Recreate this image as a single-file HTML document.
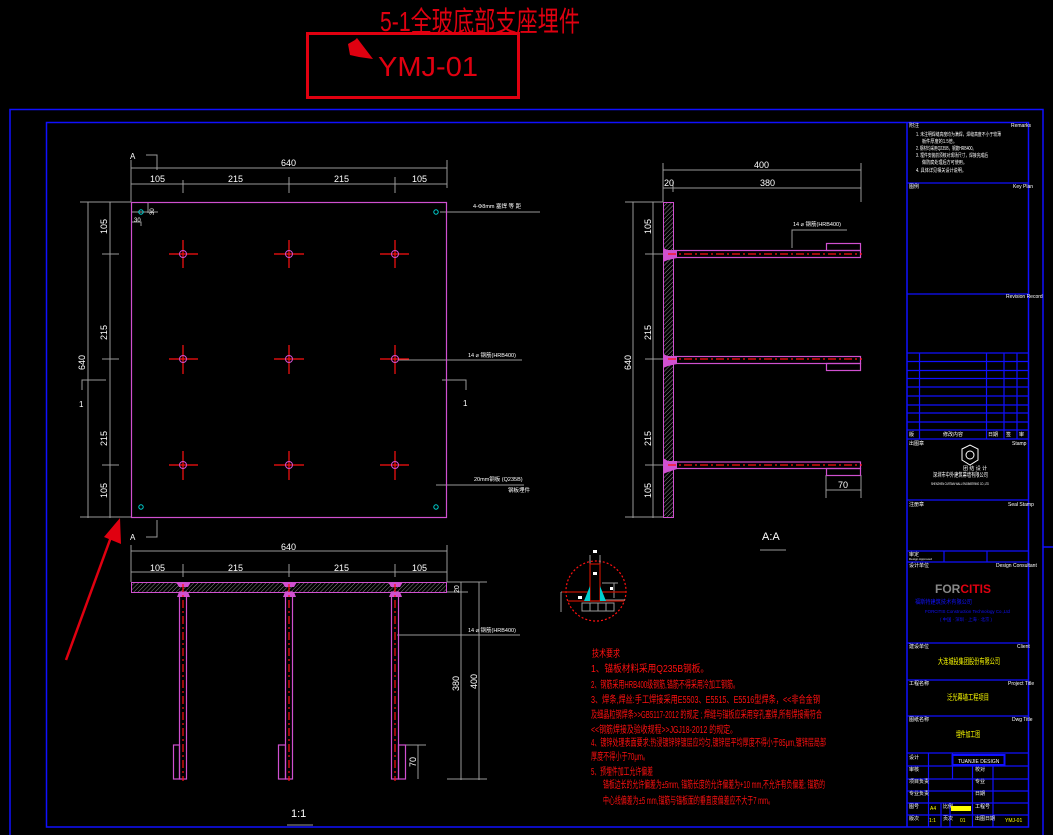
<!DOCTYPE html>
<html><head><meta charset="utf-8"><style>
html,body{margin:0;padding:0;background:#000;width:1053px;height:835px;overflow:hidden}
svg{display:block}
text{font-family:"Liberation Sans","Noto Sans CJK SC",sans-serif}
</style></head><body>
<svg width="1053" height="835" viewBox="0 0 1053 835" xmlns="http://www.w3.org/2000/svg">
<defs>
<pattern id="h" width="3" height="3" patternUnits="userSpaceOnUse" patternTransform="rotate(45)">
<rect width="3" height="3" fill="#000"/><line x1="0" y1="0" x2="0" y2="3" stroke="#888" stroke-width="1"/></pattern>
</defs>
<rect width="1053" height="835" fill="#000"/>
<!-- header -->
<text x="380" y="31" fill="#e00010" font-size="28" textLength="200" lengthAdjust="spacingAndGlyphs" font-family="Liberation Sans, Noto Sans CJK SC, sans-serif" font-weight="normal">5-1全玻底部支座埋件</text>
<rect x="307.5" y="33.5" width="211" height="64" fill="none" stroke="#e00010" stroke-width="3"/>
<polygon points="348,44 355,40 357,38 373,59 359,57 350,55" fill="#e00010"/>
<text x="378" y="76" fill="#e00010" font-size="28" textLength="100" lengthAdjust="spacingAndGlyphs">YMJ-01</text>
<!-- frames -->
<g fill="none" stroke="#1010ff" stroke-width="1.5">
<polyline points="10,835 10,109.5 1043,109.5 1043,835"/>
<rect x="46.5" y="122.5" width="982" height="704.5"/>
<line x1="1043" y1="547" x2="1053" y2="547"/>
<line x1="907" y1="122" x2="907" y2="827"/>
</g>
<g stroke="#1010ff" stroke-width="1.2" fill="none">
<line x1="907" y1="183" x2="1029" y2="183"/><line x1="907" y1="294" x2="1029" y2="294"/>
<line x1="907" y1="353" x2="1029" y2="353"/><line x1="907" y1="361.5" x2="1029" y2="361.5"/>
<line x1="907" y1="370.5" x2="1029" y2="370.5"/><line x1="907" y1="378.5" x2="1029" y2="378.5"/>
<line x1="907" y1="387" x2="1029" y2="387"/><line x1="907" y1="396" x2="1029" y2="396"/>
<line x1="907" y1="405" x2="1029" y2="405"/><line x1="907" y1="413" x2="1029" y2="413"/>
<line x1="907" y1="422" x2="1029" y2="422"/><line x1="907" y1="430" x2="1029" y2="430"/>
<line x1="907" y1="439" x2="1029" y2="439"/>
<line x1="919.5" y1="353" x2="919.5" y2="439"/><line x1="986.5" y1="353" x2="986.5" y2="439"/>
<line x1="1004" y1="353" x2="1004" y2="439"/><line x1="1017" y1="353" x2="1017" y2="439"/>
<line x1="907" y1="500" x2="1029" y2="500"/><line x1="907" y1="551" x2="1029" y2="551"/>
<line x1="907" y1="562" x2="1029" y2="562"/>
<line x1="944" y1="551" x2="944" y2="562"/><line x1="987" y1="551" x2="987" y2="562"/>
<line x1="907" y1="643" x2="1029" y2="643"/><line x1="907" y1="680" x2="1029" y2="680"/>
<line x1="907" y1="716" x2="1029" y2="716"/><line x1="907" y1="753" x2="1029" y2="753"/>
<line x1="907" y1="766" x2="1029" y2="766"/><line x1="907" y1="779" x2="1029" y2="779"/>
<line x1="907" y1="791" x2="1029" y2="791"/><line x1="907" y1="803" x2="1029" y2="803"/>
<line x1="907" y1="815" x2="1029" y2="815"/>
<line x1="928.5" y1="753" x2="928.5" y2="827"/><line x1="952.5" y1="779" x2="952.5" y2="753"/>
<line x1="972.5" y1="766" x2="972.5" y2="827"/><line x1="993" y1="766" x2="993" y2="827"/>
<line x1="950" y1="803" x2="950" y2="827"/><line x1="941" y1="803" x2="941" y2="827"/>
<rect x="952.5" y="755" width="52" height="10" stroke-width="2"/>
</g>
<g fill="#fff" font-size="5">
<text x="909" y="127">附注</text><text x="1011" y="127">Remarks</text>
<text x="916" y="136" textLength="85" lengthAdjust="spacingAndGlyphs">1. 未注明焊缝高度均为满焊，焊缝高度不小于较薄</text>
<text x="922" y="143" textLength="35" lengthAdjust="spacingAndGlyphs">板件厚度的1.5倍。</text>
<text x="916" y="150" textLength="60" lengthAdjust="spacingAndGlyphs">2. 钢材均采用Q235B，钢筋HRB400。</text>
<text x="916" y="157" textLength="72" lengthAdjust="spacingAndGlyphs">3. 埋件安装前须核对现场尺寸，焊接完成后</text>
<text x="922" y="164" textLength="45" lengthAdjust="spacingAndGlyphs">做防腐处理后方可使用。</text>
<text x="916" y="172" textLength="50" lengthAdjust="spacingAndGlyphs">4. 具体详见相关设计说明。</text>
<text x="909" y="188">图例</text><text x="1013" y="188">Key Plan</text>
<text x="1006" y="298">Revision Record</text>
<text x="909" y="436">版</text><text x="943" y="436">修改内容</text><text x="988" y="436">日期</text><text x="1006" y="436">签</text><text x="1019" y="436">审</text>
<text x="909" y="445">出图章</text><text x="1012" y="445">Stamp</text>
<text x="933" y="477" font-size="6" textLength="55" lengthAdjust="spacingAndGlyphs">深圳市中外建筑幕墙有限公司</text>
<text x="931" y="485" font-size="3.5" textLength="58" lengthAdjust="spacingAndGlyphs">SHENZHEN CURTAIN WALL ENGINEERING CO.,LTD</text>
<text x="909" y="506">注册章</text><text x="1008" y="506">Seal Stamp</text>
<text x="909" y="556">审定</text><text x="909" y="560" font-size="3">Design Approved</text>
<text x="909" y="567">设计单位</text><text x="996" y="567">Design Consultant</text>
<text x="909" y="648">建设单位</text><text x="1017" y="648">Client</text>
<text x="909" y="685">工程名称</text><text x="1008" y="685">Project Title</text>
<text x="909" y="721">图纸名称</text><text x="1012" y="721">Dwg Title</text>
<text x="909" y="759">设计</text><text x="958" y="763" font-size="5">TUANJIE DESIGN</text>
<text x="909" y="771">审核</text><text x="975" y="771">校对</text>
<text x="909" y="783">项目负责</text><text x="975" y="783">专业</text>
<text x="909" y="795">专业负责</text><text x="975" y="795">日期</text>
<text x="909" y="808">图号</text><text x="943" y="808">比例</text><text x="975" y="808">工程号</text>
<text x="909" y="820">版次</text><text x="943" y="820">页次</text><text x="975" y="820">出图日期</text>
</g>
<g fill="none" stroke="#fff" stroke-width="1"><polygon points="962,449 970,445 978,449 978,460 970,465 962,460"/><circle cx="970" cy="455" r="4"/></g>
<text x="963" y="470" fill="#fff" font-size="5">团 结 设 计</text>
<text x="935" y="593" font-size="12" font-weight="bold" fill="#888">FOR<tspan fill="#e00010">CITIS</tspan></text>
<text x="915" y="604" fill="#1010ff" font-size="6" textLength="57" lengthAdjust="spacingAndGlyphs">福斯特建筑技术有限公司</text>
<text x="925" y="613" fill="#1010ff" font-size="4.5" textLength="85" lengthAdjust="spacingAndGlyphs">FORCITIS Construction Technology Co.,Ltd</text>
<text x="940" y="621" fill="#1010ff" font-size="4.5" textLength="52" lengthAdjust="spacingAndGlyphs">( 中国 · 深圳 · 上海 · 北京 )</text>
<text x="938" y="664" fill="#ff0" font-size="8" textLength="62" lengthAdjust="spacingAndGlyphs">大连城投集团股份有限公司</text>
<text x="947" y="700" fill="#ff0" font-size="8" textLength="42" lengthAdjust="spacingAndGlyphs">泛光幕墙工程项目</text>
<text x="956" y="737" fill="#ff0" font-size="8" textLength="24" lengthAdjust="spacingAndGlyphs">埋件加工图</text>
<rect x="951" y="806" width="20" height="5" fill="#ff0"/>
<text x="930" y="810" fill="#ff0" font-size="5">A4</text><text x="1005" y="822" fill="#ff0" font-size="5">YMJ-01</text>
<text x="929" y="822" fill="#ff0" font-size="5">1:1</text><text x="960" y="822" fill="#ff0" font-size="5">01</text>

<!-- PLAN VIEW -->
<g stroke="#999" stroke-width="1" fill="none">
<line x1="131" y1="168" x2="447" y2="168"/><line x1="131" y1="184" x2="447" y2="184"/>
<line x1="131" y1="160" x2="131" y2="202"/><line x1="447" y1="160" x2="447" y2="188"/>
<line x1="183" y1="180" x2="183" y2="193"/><line x1="289" y1="177" x2="289" y2="193"/><line x1="395" y1="177" x2="395" y2="193"/>
<line x1="88" y1="202" x2="88" y2="518"/><line x1="110" y1="202" x2="110" y2="518"/>
<line x1="80" y1="202" x2="131" y2="202"/><line x1="80" y1="517" x2="131" y2="517"/>
<line x1="102" y1="254" x2="119" y2="254"/><line x1="102" y1="359" x2="119" y2="359"/><line x1="102" y1="465" x2="119" y2="465"/>
<polyline points="146,155 157,155 157,170"/><polyline points="146,537 157,537 157,520"/>
<polyline points="82,390 82,380 106,380"/><polyline points="442,380 466,380 466,390"/>
<line x1="440" y1="212" x2="540" y2="212"/><line x1="398" y1="360" x2="522" y2="360"/><line x1="436" y1="485" x2="524" y2="485"/>
<polyline points="132,212 158,212"/><polyline points="132,222 141,222 141,226"/><line x1="148" y1="202" x2="148" y2="213"/>
</g>
<rect x="131.5" y="202.5" width="315" height="315" fill="none" stroke="#d050d0" stroke-width="1.2"/>
<g fill="#fff" font-size="9">
<text x="281" y="166">640</text>
<text x="150" y="182">105</text><text x="228" y="182">215</text><text x="334" y="182">215</text><text x="412" y="182">105</text>
<text x="130" y="159" font-size="8">A</text><text x="130" y="540" font-size="8">A</text>
<text x="79" y="407" font-size="8">1</text><text x="463" y="406" font-size="8">1</text>
<text transform="translate(107,234) rotate(-90)">105</text><text transform="translate(107,340) rotate(-90)">215</text>
<text transform="translate(107,446) rotate(-90)">215</text><text transform="translate(107,498) rotate(-90)">105</text>
<text transform="translate(85,370) rotate(-90)">640</text>
<text transform="translate(154,215) rotate(-90)" font-size="6">30</text><text x="134" y="222" font-size="6">30</text>
</g>
<g fill="#fff" font-size="5.5">
<text x="473" y="208">4-Φ8mm  塞焊  等  距</text>
<text x="468" y="357">14 ⌀ 钢筋(HRB400)</text>
<text x="474" y="481">20mm钢板 (Q235B)</text>
<text x="508" y="492">钢板埋件</text>
</g>
<g stroke="#00d0d0" fill="none" stroke-width="1">
<circle cx="141" cy="212" r="2.2"/><circle cx="436" cy="212" r="2.2"/><circle cx="141" cy="507" r="2.2"/><circle cx="436" cy="507" r="2.2"/>
</g>
<g stroke="#ff1010" stroke-width="1.2">
<line x1="169" y1="254" x2="198" y2="254"/><line x1="183" y1="240" x2="183" y2="268"/>
<line x1="274" y1="254" x2="304" y2="254"/><line x1="289" y1="240" x2="289" y2="268"/>
<line x1="380" y1="254" x2="409" y2="254"/><line x1="395" y1="240" x2="395" y2="268"/>
<line x1="169" y1="359" x2="198" y2="359"/><line x1="183" y1="345" x2="183" y2="374"/>
<line x1="274" y1="359" x2="304" y2="359"/><line x1="289" y1="345" x2="289" y2="374"/>
<line x1="380" y1="359" x2="409" y2="359"/><line x1="395" y1="345" x2="395" y2="374"/>
<line x1="169" y1="465" x2="198" y2="465"/><line x1="183" y1="451" x2="183" y2="480"/>
<line x1="274" y1="465" x2="304" y2="465"/><line x1="289" y1="451" x2="289" y2="480"/>
<line x1="380" y1="465" x2="409" y2="465"/><line x1="395" y1="451" x2="395" y2="480"/>
</g>
<g stroke="#d050d0" fill="none" stroke-width="1">
<circle cx="183" cy="254" r="3.5"/><circle cx="289" cy="254" r="3.5"/><circle cx="395" cy="254" r="3.5"/>
<circle cx="183" cy="359" r="3.5"/><circle cx="289" cy="359" r="3.5"/><circle cx="395" cy="359" r="3.5"/>
<circle cx="183" cy="465" r="3.5"/><circle cx="289" cy="465" r="3.5"/><circle cx="395" cy="465" r="3.5"/>
</g>

<!-- SIDE VIEW A:A -->
<g stroke="#999" stroke-width="1" fill="none">
<line x1="663" y1="170" x2="861" y2="170"/><line x1="663" y1="188" x2="861" y2="188"/>
<line x1="663" y1="163" x2="663" y2="202"/><line x1="861" y1="163" x2="861" y2="202"/><line x1="673" y1="182" x2="673" y2="192"/>
<line x1="633" y1="202" x2="633" y2="518"/><line x1="653" y1="202" x2="653" y2="518"/>
<line x1="625" y1="202" x2="663" y2="202"/><line x1="625" y1="517" x2="663" y2="517"/>
<line x1="645" y1="254" x2="663" y2="254"/><line x1="645" y1="359" x2="663" y2="359"/><line x1="645" y1="465" x2="663" y2="465"/>
<polyline points="792,248 792,230 847,230"/>
<line x1="826" y1="490" x2="861" y2="490"/><line x1="826" y1="475" x2="826" y2="498"/><line x1="861" y1="475" x2="861" y2="498"/>
</g>
<g fill="#fff" font-size="9">
<text x="754" y="168">400</text><text x="664" y="186">20</text><text x="760" y="186">380</text>
<text transform="translate(651,234) rotate(-90)">105</text><text transform="translate(651,340) rotate(-90)">215</text>
<text transform="translate(651,446) rotate(-90)">215</text><text transform="translate(651,498) rotate(-90)">105</text>
<text transform="translate(631,370) rotate(-90)">640</text>
<text x="838" y="488">70</text>
<text x="762" y="540" font-size="11">A:A</text>
<text x="793" y="226" font-size="5.5">14 ⌀ 钢筋(HRB400)</text>
</g>
<rect x="663.5" y="202.5" width="10" height="315" fill="url(#h)" stroke="#d050d0" stroke-width="1"/>
<g stroke="#d050d0" fill="none" stroke-width="1.2">
<rect x="673.5" y="250.5" width="187" height="7"/><rect x="826.5" y="243.5" width="34" height="7"/>
<rect x="673.5" y="356.5" width="187" height="7"/><rect x="826.5" y="363.5" width="34" height="7"/>
<rect x="673.5" y="462" width="187" height="6.5"/><rect x="826.5" y="468.5" width="34" height="7"/>
</g>
<g fill="#d050d0">
<polygon points="663,248 668,250 677,250 677,258 668,260 663,262"/>
<polygon points="663,354 668,356 677,356 677,364 668,366 663,368"/>
<polygon points="663,458 668,461 677,461 677,469 668,472 663,474"/>
</g>
<g stroke="#ff1010" stroke-width="1.2" stroke-dasharray="8,3,2,3">
<line x1="668" y1="254" x2="862" y2="254"/><line x1="668" y1="359" x2="862" y2="359"/><line x1="668" y1="465" x2="862" y2="465"/>
</g>

<!-- SECTION 1:1 -->
<g stroke="#999" stroke-width="1" fill="none">
<line x1="131" y1="551" x2="447" y2="551"/><line x1="131" y1="572" x2="447" y2="572"/>
<line x1="131" y1="545" x2="131" y2="582"/><line x1="447" y1="545" x2="447" y2="582"/>
<line x1="183" y1="564" x2="183" y2="577"/><line x1="289" y1="564" x2="289" y2="577"/><line x1="395" y1="564" x2="395" y2="577"/>
<line x1="461" y1="582" x2="461" y2="780"/><line x1="479" y1="582" x2="479" y2="780"/>
<line x1="447" y1="582" x2="487" y2="582"/><line x1="447" y1="592" x2="468" y2="592"/><line x1="447" y1="779" x2="487" y2="779"/>
<line x1="397" y1="635" x2="520" y2="635"/>
<line x1="405" y1="745" x2="426" y2="745"/><line x1="418" y1="745" x2="418" y2="779"/>
<line x1="287" y1="825" x2="313" y2="825"/>
</g>
<g fill="#fff" font-size="9">
<text x="281" y="550">640</text>
<text x="150" y="571">105</text><text x="228" y="571">215</text><text x="334" y="571">215</text><text x="412" y="571">105</text>
<text transform="translate(459,691) rotate(-90)">380</text><text transform="translate(477,689) rotate(-90)">400</text>
<text transform="translate(416,767) rotate(-90)">70</text><text transform="translate(459,593) rotate(-90)" font-size="7">20</text>
<text x="291" y="817" font-size="11">1:1</text>
<text x="468" y="632" font-size="5.5">14 ⌀ 钢筋(HRB400)</text>
</g>
<rect x="131.5" y="582.5" width="315" height="10" fill="url(#h)" stroke="#d050d0" stroke-width="1"/>
<g stroke="#d050d0" fill="none" stroke-width="1.2">
<rect x="179.5" y="592" width="7" height="187"/><rect x="173.5" y="745" width="6" height="34"/>
<rect x="285.5" y="592" width="7" height="187"/><rect x="278.5" y="745" width="7" height="34"/>
<rect x="391.5" y="592" width="7" height="187"/><rect x="398.5" y="745" width="7" height="34"/>
</g>
<g fill="#d050d0">
<polygon points="176,582 191,582 188,587 179,587"/><polygon points="282,582 297,582 294,587 285,587"/><polygon points="388,582 403,582 400,587 391,587"/>
<polygon points="177,597 179,592 188,592 190,597"/><polygon points="283,597 285,592 294,592 296,597"/><polygon points="389,597 391,592 400,592 402,597"/>
</g>
<g stroke="#ff1010" stroke-width="1.2" stroke-dasharray="8,3,2,3">
<line x1="183" y1="584" x2="183" y2="781"/><line x1="289" y1="584" x2="289" y2="781"/><line x1="395" y1="584" x2="395" y2="781"/>
</g>
<!-- red arrow -->
<line x1="66" y1="660" x2="111" y2="537" stroke="#e00010" stroke-width="2.5"/>
<polygon points="104,537 120,518 121,544" fill="#e00010"/>

<!-- detail circle -->
<circle cx="596" cy="591" r="30" fill="none" stroke="#ff1010" stroke-width="1.2" stroke-dasharray="2,2"/>
<g stroke="#999" fill="none" stroke-width="1">
<line x1="590" y1="555" x2="590" y2="565"/><line x1="600" y1="555" x2="600" y2="565"/>
<line x1="561" y1="592" x2="561" y2="612"/><line x1="561" y1="592" x2="586" y2="592"/>
<rect x="582" y="603" width="32" height="8"/><line x1="590" y1="603" x2="590" y2="611"/><line x1="598" y1="603" x2="598" y2="611"/><line x1="606" y1="603" x2="606" y2="611"/>
<line x1="602" y1="583" x2="618" y2="583"/><line x1="614" y1="583" x2="614" y2="598"/><line x1="603" y1="600" x2="625" y2="600"/>
</g>
<g stroke="#c01000" fill="none" stroke-width="1.2">
<rect x="590" y="564" width="10" height="37"/><line x1="562" y1="592" x2="590" y2="592"/><line x1="600" y1="592" x2="626" y2="592"/>
<line x1="568" y1="601" x2="624" y2="601"/>
</g>
<g fill="#00d0d0"><polygon points="590,586 590,601 584,601"/><polygon points="600,586 600,601 606,601"/></g>
<g fill="#fff"><rect x="593" y="550" width="4" height="3"/><rect x="593" y="572" width="4" height="3"/><rect x="578" y="596" width="4" height="3"/><rect x="610" y="587" width="3" height="3"/></g>
<line x1="760" y1="550" x2="786" y2="550" stroke="#999"/>

<!-- notes -->
<g fill="#ff1010" font-size="10">
<text x="592" y="657" textLength="28" lengthAdjust="spacingAndGlyphs">技术要求</text>
<text x="591" y="672" textLength="118" lengthAdjust="spacingAndGlyphs">1、锚板材料采用Q235B钢板。</text>
<text x="591" y="688" textLength="148" lengthAdjust="spacingAndGlyphs">2、钢筋采用HRB400级钢筋,锚筋不得采用冷加工钢筋。</text>
<text x="591" y="703" textLength="229" lengthAdjust="spacingAndGlyphs">3、焊条,焊丝:手工焊接采用E5503、E5515、E5516型焊条，&lt;&lt;非合金钢</text>
<text x="591" y="718" textLength="231" lengthAdjust="spacingAndGlyphs">及细晶粒钢焊条&gt;&gt;GB5117-2012 的规定 ; 焊缝与锚板应采用穿孔塞焊,所有焊接需符合</text>
<text x="591" y="733" textLength="146" lengthAdjust="spacingAndGlyphs">&lt;&lt;钢筋焊接及验收规程&gt;&gt;JGJ18-2012 的规定。</text>
<text x="591" y="746" textLength="235" lengthAdjust="spacingAndGlyphs">4、镀锌处理表面要求:热浸镀锌锌镀层应均匀,镀锌层平均厚度不得小于85μm,镀锌层局部</text>
<text x="591" y="760" textLength="58" lengthAdjust="spacingAndGlyphs">厚度不得小于70μm。</text>
<text x="591" y="775" textLength="62" lengthAdjust="spacingAndGlyphs">5、预埋件加工允许偏差</text>
<text x="603" y="788" textLength="222" lengthAdjust="spacingAndGlyphs">锚板边长的允许偏差为±5mm, 锚筋长度的允许偏差为+10 mm,不允许有负偏差; 锚筋的</text>
<text x="603" y="804" textLength="171" lengthAdjust="spacingAndGlyphs">中心线偏差为±5 mm,锚筋与锚板面的垂直度偏差应不大于7 mm。</text>
</g>
</svg>
</body></html>
